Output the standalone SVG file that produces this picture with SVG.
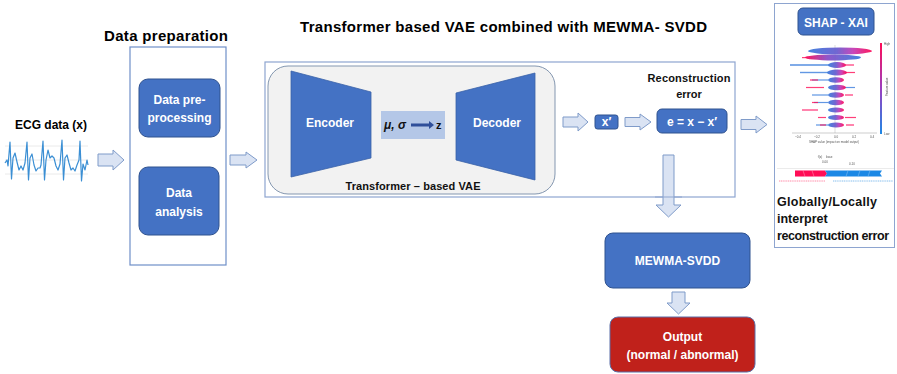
<svg xmlns="http://www.w3.org/2000/svg" width="897" height="374" viewBox="0 0 897 374">
  <defs>
    <style>
      text { font-family: "Liberation Sans", Arial, sans-serif; font-weight: bold; }
      .ttl { font-size: 15px; fill: #000; }
      .lbl { font-size: 12px; fill: #000; }
      .wt { font-size: 12px; fill: #fff; text-anchor: middle; }
      .node { fill: #4472c4; stroke: #2f528f; stroke-width: 1; }
      .arrow { fill: #dae3f3; stroke: #7f9bc9; stroke-width: 1; }
      .frame { fill: none; stroke: #8ea5d0; stroke-width: 1.2; }
      .tiny { font-size: 3px; font-weight: normal; fill: #555; }
    </style>
    <linearGradient id="swarm" x1="0" y1="0" x2="1" y2="0">
      <stop offset="0" stop-color="#3b7ddd"/>
      <stop offset="0.45" stop-color="#6a5fd0"/>
      <stop offset="0.7" stop-color="#c43fb8"/>
      <stop offset="1" stop-color="#ff0d57"/>
    </linearGradient>
    <linearGradient id="swarmB" x1="0" y1="0" x2="1" y2="0">
      <stop offset="0" stop-color="#ff0d57"/>
      <stop offset="0.4" stop-color="#8a4fc8"/>
      <stop offset="1" stop-color="#3b7ddd"/>
    </linearGradient>
    <linearGradient id="cbar" x1="0" y1="0" x2="0" y2="1">
      <stop offset="0" stop-color="#ff0d57"/>
      <stop offset="0.5" stop-color="#9b3fc0"/>
      <stop offset="1" stop-color="#1e88e5"/>
    </linearGradient>
    <filter id="soft" x="-5%" y="-5%" width="110%" height="110%">
      <feGaussianBlur stdDeviation="0.4"/>
    </filter>
  </defs>

  <rect x="0" y="0" width="897" height="374" fill="#ffffff"/>

  <!-- Section titles -->
  <text class="ttl" x="300" y="32" textLength="407">Transformer based VAE combined with MEWMA- SVDD</text>
  <text class="ttl" x="104" y="41" textLength="124">Data preparation</text>

  <!-- Input signal -->
  <g id="ecg">
    <text class="lbl" x="15" y="129" textLength="72">ECG data (x)</text>
    <g stroke="#e4e4e4" stroke-width="0.8">
      <line x1="5" y1="146" x2="88" y2="146"/>
      <line x1="5" y1="160" x2="88" y2="160"/>
      <line x1="5" y1="174" x2="88" y2="174"/>
    </g>
    <path fill="none" stroke="#3b8fd4" stroke-width="1.2" stroke-linejoin="round"
      d="M5,163 L7,160 L8,166 L10,142 L11.5,179 L13,158 L15,153 L17,162 L19,170 L21,166 L23,170 L25,163 L27,142 L28.5,180 L30,158 L32,154 L34,165 L36,171 L38,168 L40,168 L41,165 L43,141 L44.5,180 L46,160 L48,150 L50,158 L52,156 L54,158 L56,166 L58,170 L60,164 L62,140 L63.5,180 L65,158 L67,155 L69,163 L71,170 L73,168 L75,171 L77,165 L79,160 L80,141 L81.5,181 L83,164 L85,170 L87,160 L88,165"/>
  </g>

  <!-- Containers -->
  <g id="prep-frame">
    <rect x="130" y="47" width="96" height="218" fill="none" stroke="#6f8fc8" stroke-width="1.2"/>
  </g>
  <g id="model-frame">
    <rect x="265" y="62" width="470" height="135" class="frame"/>
  </g>

  <!-- Connectors -->
  <g id="connectors">
    <path class="arrow" d="M98,154 L113,154 L113,150 L124,160 L113,170 L113,166 L98,166 Z"/>
    <path class="arrow" d="M230,155 L246,155 L246,152 L257,160 L246,168 L246,165 L230,165 Z"/>
    <path class="arrow" d="M563,117 L578,117 L578,113 L588,122 L578,131 L578,127 L563,127 Z"/>
    <path class="arrow" d="M625,117.5 L640,117.5 L640,114 L651,122 L640,130 L640,126.5 L625,126.5 Z"/>
    <path class="arrow" d="M741,119.5 L756,119.5 L756,116 L767,124.5 L756,133 L756,129.5 L741,129.5 Z"/>
    <path class="arrow" d="M663,155 L674,155 L674,205 L681,205 L668.5,217 L656,205 L663,205 Z"/>
    <path class="arrow" d="M672,292 L685,292 L685,303 L690,303 L678.5,314 L667,303 L672,303 Z"/>
    <line x1="655" y1="197" x2="682" y2="197" stroke="#8ea5d0" stroke-width="1"/>
  </g>

  <!-- Data preparation nodes -->
  <g id="preprocessing">
    <rect x="139" y="79" width="81" height="58" rx="9" class="node"/>
    <text class="wt" x="179.5" y="104">Data pre-</text>
    <text class="wt" x="179.5" y="122">processing</text>
  </g>
  <g id="analysis">
    <rect x="139" y="167" width="80" height="68" rx="9" class="node"/>
    <text class="wt" x="179" y="197">Data</text>
    <text class="wt" x="179" y="216">analysis</text>
  </g>

  <!-- Transformer based VAE -->
  <g id="vae">
    <rect x="268" y="66" width="287" height="128" rx="20" fill="#f2f2f2" stroke="#8497b0" stroke-width="1"/>
    <text x="413" y="190" text-anchor="middle" font-size="11" fill="#111" textLength="135">Transformer – based VAE</text>
  </g>
  <g id="encoder">
    <polygon points="291,71 371,92 371,158 291,177" fill="#4472c4" stroke="#3a62a8" stroke-width="0.8"/>
    <text class="wt" x="330" y="127">Encoder</text>
  </g>
  <g id="latent">
    <rect x="381" y="111" width="64" height="28" fill="#b4c7e7"/>
    <text x="384" y="129" font-size="12" fill="#111" font-family="Liberation Serif, serif" font-style="italic">μ, σ</text>
    <path d="M411,123.5 L429,123.5 L429,121 L434,125 L429,129 L429,126.5 L411,126.5 Z" fill="#2f4f9a"/>
    <text x="436" y="129" font-size="11" fill="#111">z</text>
  </g>
  <g id="decoder">
    <polygon points="456,93 535,73 535,180 456,160" fill="#4472c4" stroke="#3a62a8" stroke-width="0.8"/>
    <text class="wt" x="497" y="127">Decoder</text>
  </g>

  <!-- Reconstruction -->
  <g id="xprime">
    <rect x="595" y="115" width="23" height="14" rx="2.5" class="node"/>
    <text class="wt" x="606.5" y="126" font-size="10">x′</text>
  </g>
  <g id="recon-error">
    <text x="689" y="82" text-anchor="middle" font-size="11" fill="#111" textLength="83">Reconstruction</text>
    <text x="689" y="98" text-anchor="middle" font-size="11" fill="#111">error</text>
    <rect x="657" y="109" width="70" height="24" rx="5" class="node"/>
    <text class="wt" x="692" y="125.5">e = x − x′</text>
  </g>

  <!-- Detection and output -->
  <g id="mewma-svdd">
    <rect x="605" y="233" width="145" height="55" rx="8" class="node"/>
    <text class="wt" x="677.5" y="265">MEWMA-SVDD</text>
  </g>
  <g id="output">
    <rect x="610" y="317" width="145" height="55" rx="8" fill="#c0211b" stroke="#5b6fa8" stroke-width="1"/>
    <text class="wt" x="682.5" y="341" font-size="13">Output</text>
    <text class="wt" x="682.5" y="359" font-size="13">(normal / abnormal)</text>
  </g>

  <!-- Explainability panel -->
  <g id="shap">
    <rect x="774.5" y="3.5" width="120" height="244" fill="#ffffff" stroke="#8ea5d0" stroke-width="1"/>
    <rect x="798" y="8" width="76" height="27" rx="5" class="node"/>
    <text class="wt" x="836" y="27" font-size="14">SHAP - XAI</text>

    <g filter="url(#soft)">
      <!-- beeswarm summary -->
      <line x1="835" y1="45" x2="835" y2="133" stroke="#bbbbbb" stroke-width="0.5"/>
      <g fill="#3b7ddd" opacity="0.8">
        <rect x="790" y="64.2" width="40" height="1.6"/>
        <rect x="800" y="71.8" width="28" height="1.4"/>
        <rect x="812" y="79.4" width="16" height="1.2"/>
        <rect x="838" y="86.9" width="17" height="1.2"/>
        <rect x="812" y="94.4" width="16" height="1.2"/>
        <rect x="814" y="101.9" width="14" height="1.2"/>
        <rect x="816" y="124.4" width="12" height="1.2"/>
      </g>
      <g fill="#ff0d57" opacity="0.8">
        <rect x="802" y="57" width="6" height="1.2"/>
        <rect x="842" y="64.4" width="12" height="1.2"/>
        <rect x="843" y="71.9" width="12" height="1.2"/>
        <rect x="810" y="79.4" width="8" height="1.2"/>
        <rect x="806" y="86.9" width="18" height="1.2"/>
        <rect x="845" y="94.4" width="8" height="1.2"/>
        <rect x="812" y="101.9" width="6" height="1.2"/>
        <rect x="802" y="109.4" width="16" height="1.2"/>
        <rect x="818" y="116.9" width="8" height="1.2"/>
        <rect x="845" y="116.9" width="11" height="1.2"/>
        <rect x="820" y="124.4" width="6" height="1.2"/>
        <rect x="846" y="124.4" width="8" height="1.2"/>
      </g>
      <g opacity="0.95">
        <ellipse cx="840" cy="51" rx="32" ry="3.5" fill="url(#swarm)"/>
        <ellipse cx="833" cy="57.5" rx="28" ry="3" fill="url(#swarmB)"/>
        <ellipse cx="837" cy="65" rx="9" ry="3" fill="url(#swarm)"/>
        <ellipse cx="837" cy="72.5" rx="10" ry="3" fill="url(#swarm)"/>
        <ellipse cx="836" cy="80" rx="8" ry="2.8" fill="url(#swarm)"/>
        <ellipse cx="837" cy="87.5" rx="9" ry="2.8" fill="url(#swarm)"/>
        <ellipse cx="836" cy="95" rx="8" ry="2.8" fill="url(#swarm)"/>
        <ellipse cx="836" cy="102.5" rx="8" ry="2.8" fill="url(#swarm)"/>
        <ellipse cx="836" cy="110" rx="8" ry="2.6" fill="url(#swarm)"/>
        <ellipse cx="836" cy="117.5" rx="8" ry="2.4" fill="url(#swarm)"/>
        <ellipse cx="836" cy="125" rx="8" ry="2.4" fill="url(#swarm)"/>
      </g>
      <line x1="792" y1="133" x2="877" y2="133" stroke="#999" stroke-width="0.5"/>
      <text class="tiny" x="798" y="138" text-anchor="middle">−0.4</text>
      <text class="tiny" x="817" y="138" text-anchor="middle">−0.2</text>
      <text class="tiny" x="836" y="138" text-anchor="middle">0.0</text>
      <text class="tiny" x="854" y="138" text-anchor="middle">0.2</text>
      <text class="tiny" x="872" y="138" text-anchor="middle">0.4</text>
      <text class="tiny" x="834" y="143" text-anchor="middle">SHAP value (impact on model output)</text>
      <rect x="880" y="43" width="2" height="91" fill="url(#cbar)"/>
      <text class="tiny" x="884" y="45" font-size="2.5">High</text>
      <text class="tiny" x="884" y="135" font-size="2.5">Low</text>
      <text class="tiny" font-size="2.5" transform="translate(888,96) rotate(-90)">Feature value</text>

      <!-- force plot -->
      <line x1="777" y1="168.5" x2="894" y2="168.5" stroke="#cccccc" stroke-width="0.4"/>
      <text class="tiny" x="820" y="158" fill="#ff0d57" font-size="2.5" text-anchor="middle">f(x)</text>
      <text class="tiny" x="826" y="158" fill="#1e88e5" font-size="2.5">base</text>
      <text class="tiny" x="825" y="163" font-size="2.5" text-anchor="middle">0.00</text>
      <text class="tiny" x="852" y="165" font-size="2.5" text-anchor="middle">0.10</text>
      <path d="M795,170.5 L825,170.5 L827,173.5 L825,176.5 L795,176.5 Z" fill="#ff0d57"/>
      <path d="M825,170.5 L882,170.5 L880,173.5 L882,176.5 L825,176.5 L827,173.5 Z" fill="#1e88e5"/>
      <g stroke="#ff9fb7" stroke-width="0.5">
        <line x1="803" y1="170.5" x2="805" y2="176.5"/><line x1="812" y1="170.5" x2="814" y2="176.5"/>
      </g>
      <g stroke="#8fc3f0" stroke-width="0.5">
        <line x1="848" y1="170.5" x2="846" y2="176.5"/><line x1="860" y1="170.5" x2="858" y2="176.5"/><line x1="870" y1="170.5" x2="868" y2="176.5"/>
      </g>
      <g stroke-width="0.8" stroke-dasharray="1.2 0.6">
        <line x1="779" y1="181" x2="825" y2="181" stroke="#ff6f93"/>
        <line x1="833" y1="181" x2="893" y2="181" stroke="#6aaee8"/>
      </g>
    </g>

    <text x="777" y="206" font-size="12.5" fill="#111" textLength="100">Globally/Locally</text>
    <text x="777" y="223" font-size="12.5" fill="#111">interpret</text>
    <text x="777" y="240" font-size="12.5" fill="#111" textLength="112">reconstruction error</text>
  </g>
</svg>
